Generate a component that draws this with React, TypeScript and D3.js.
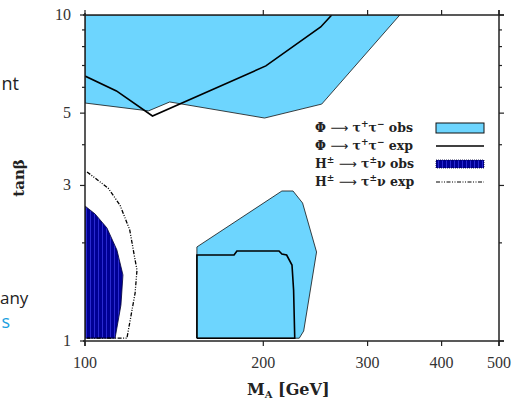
import React from "react";
import * as d3 from "d3";

// ---- data (M_A [GeV], tanβ) ----
const phiObsUpper: [number, number][] = [
  [100, 10], [340, 10], [251, 5.33], [201, 4.83], [139, 5.41], [128, 5.08], [100, 5.37],
];
const phiObsLower: [number, number][] = [
  [154.5, 1.02], [154.5, 1.943], [215, 2.885], [224.5, 2.885], [233, 2.65], [246, 1.875],
  [234, 1.073], [230, 1.02],
];
const phiExpUpper: [number, number][] = [
  [100, 6.5], [113, 5.85], [130, 4.9], [202, 6.98], [250, 9.19], [261, 10],
];
const phiExpLower: [number, number][] = [
  [154.5, 1.02], [154.5, 1.835], [178.5, 1.835], [180.5, 1.889], [212.6, 1.889], [215, 1.849],
  [219, 1.835], [223.6, 1.71], [225, 1.433], [226, 1.02], [154.5, 1.02],
];
const hObs: [number, number][] = [
  [100, 1.02], [100, 2.595], [104, 2.453], [108.9, 2.222], [113.2, 1.902], [115.9, 1.594],
  [115, 1.289], [112.4, 1.02],
];
const hExp: [number, number][] = [
  [100.8, 3.3], [105, 3.12], [109.4, 2.945], [114.6, 2.61], [119, 2.19], [121.5, 1.772],
  [122.4, 1.651], [121.5, 1.403], [117.7, 1.02], [100.8, 1.02],
];
const xTicks = [100, 200, 300, 400, 500];
const yMajor = [1, 3, 5, 10];
const yMinor = [2, 4, 6, 7, 8, 9];
const legendLabels = ["obs", "exp", "obs", "exp"];

const LIGHT = "#6dd5fe";
const DARK = "#000094";

export default function App() {
  const L = 85, R = 499, T = 15, B = 341;
  const x = d3.scaleLog().domain([100, 500]).range([L, R]);
  const y = d3.scaleLog().domain([1, 10]).range([B, T]);
  const line = d3.line<[number, number]>().x((d) => x(d[0])).y((d) => y(d[1]));
  const poly = (pts: [number, number][]) => line(pts)! + "Z";
  const serif = "'Liberation Serif', 'DejaVu Serif', serif";
  const legSerif = "'DejaVu Serif', serif";
  const axisCol = "#222";
  const lx = 315, sx0 = 436, sx1 = 484;
  const ly = [128, 146, 164, 182];

  const arrow = <tspan fontFamily="'DejaVu Sans', sans-serif" fontWeight="normal">⟶</tspan>;
  const phiLbl = (
    <>
      Φ {arrow} τ<tspan dy={-5} fontSize={9}>+</tspan>
      <tspan dy={5}>τ</tspan>
      <tspan dy={-5} fontSize={9}>−</tspan>
      <tspan dy={5}>  </tspan>
    </>
  );
  const hLbl = (
    <>
      H<tspan dy={-5} fontSize={9}>±</tspan>
      <tspan dy={5}> </tspan>{arrow} τ<tspan dy={-5} fontSize={9}>±</tspan>
      <tspan dy={5}>ν </tspan>
    </>
  );

  return (
    <svg width={518} height={401} style={{ position: "absolute", left: 0, top: 0, background: "#fff" }}>
      <defs>
        <clipPath id="plot">
          <rect x={L} y={T} width={R - L} height={B - T} />
        </clipPath>
        <pattern id="stripes" width={4} height={4} patternUnits="userSpaceOnUse">
          <rect width={4} height={4} fill={DARK} />
          <rect x={2} width={1} height={4} fill="#2a2ad0" />
        </pattern>
      </defs>

      {/* page fragments at the left */}
      <text x={19} y={90} textAnchor="end" fontFamily="'Open Sans', sans-serif" fontSize={18} fill="#222">nt</text>
      <text x={0} y={304} fontFamily="'Open Sans', sans-serif" fontSize={17} fill="#222">any</text>
      <text x={10} y={328} textAnchor="end" fontFamily="'Open Sans', sans-serif" fontSize={18} fill="#1a9fe0">s</text>

      <g clipPath="url(#plot)">
        <path d={poly(phiObsUpper)} fill={LIGHT} stroke="#111" strokeWidth={0.8} />
        <path d={poly(phiObsLower)} fill={LIGHT} stroke="#111" strokeWidth={0.8} />
        <path d={poly(hObs)} fill="url(#stripes)" stroke="#000033" strokeWidth={0.8} />
        <path d={line(phiExpUpper)!} fill="none" stroke="#000" strokeWidth={1.6} />
        <path d={line(phiExpLower)!} fill="none" stroke="#000" strokeWidth={1.6} />
        <path d={line(hExp)!} fill="none" stroke="#000" strokeWidth={1.3} strokeDasharray="4,1.5,1,1.5,1,1.5" />
      </g>

      {/* frame */}
      <g stroke={axisCol} strokeWidth={1.5} fill="none">
        <line x1={L - 2} x2={R + 5} y1={B} y2={B} />
        <line x1={L - 2} x2={R + 5} y1={T} y2={T} />
        <line x1={L} x2={L} y1={T - 2} y2={B + 5} />
        <line x1={R} x2={R} y1={T - 5} y2={B + 5} />
      </g>
      <g stroke={axisCol} strokeWidth={1.2}>
        {xTicks.map((t) => (
          <g key={"xt" + t}>
            <line x1={x(t)} x2={x(t)} y1={B} y2={B + 5} />
            <line x1={x(t)} x2={x(t)} y1={T} y2={T - 5} />
          </g>
        ))}
        {yMajor.map((t) => (
          <g key={"ym" + t}>
            <line x1={L - 5} x2={L} y1={y(t)} y2={y(t)} />
            <line x1={R} x2={R + 5} y1={y(t)} y2={y(t)} />
          </g>
        ))}
        {yMinor.map((t) => (
          <g key={"yn" + t}>
            <line x1={L - 3} x2={L} y1={y(t)} y2={y(t)} />
            <line x1={R} x2={R + 3} y1={y(t)} y2={y(t)} />
          </g>
        ))}
      </g>
      <g fontFamily={serif} fontSize={16} fill="#333">
        {xTicks.map((t) => (
          <text key={"xl" + t} x={x(t)} y={B + 27} textAnchor="middle">{t}</text>
        ))}
        {yMajor.map((t) => (
          <text key={"yl" + t} x={L - 14} y={y(t) + 5} textAnchor="end">{t}</text>
        ))}
      </g>

      {/* axis titles */}
      <text x={247} y={395} fontFamily={legSerif} fontWeight="bold" fontSize={16} fill="#222">
        M<tspan dy={3} fontSize={10}>A</tspan>
        <tspan dy={-3}> [GeV]</tspan>
      </text>
      <text transform="translate(24,178) rotate(-90)" textAnchor="middle" fontFamily={legSerif} fontWeight="bold" fontSize={15} fill="#222">
        tanβ
      </text>

      {/* legend */}
      <g fontFamily={legSerif} fontWeight="bold" fontSize={12.5} fill="#222">
        <text x={lx} y={ly[0] + 4}>{phiLbl}{legendLabels[0]}</text>
        <text x={lx} y={ly[1] + 4}>{phiLbl}{legendLabels[1]}</text>
        <text x={lx} y={ly[2] + 4}>{hLbl}{legendLabels[2]}</text>
        <text x={lx} y={ly[3] + 4}>{hLbl}{legendLabels[3]}</text>
      </g>
      <rect x={sx0} y={ly[0] - 5} width={sx1 - sx0} height={10} fill={LIGHT} stroke="#111" strokeWidth={1} />
      <line x1={sx0} x2={sx1} y1={ly[1]} y2={ly[1]} stroke="#000" strokeWidth={1.6} />
      <rect x={sx0} y={ly[2] - 4} width={sx1 - sx0} height={8} fill="url(#stripes)" stroke="#000033" strokeWidth={0.8} strokeDasharray="1,1" />
      <line x1={sx0} x2={sx1} y1={ly[3]} y2={ly[3]} stroke="#000" strokeWidth={1.2} strokeDasharray="4,1.5,1,1.5,1,1.5" />
    </svg>
  );
}
